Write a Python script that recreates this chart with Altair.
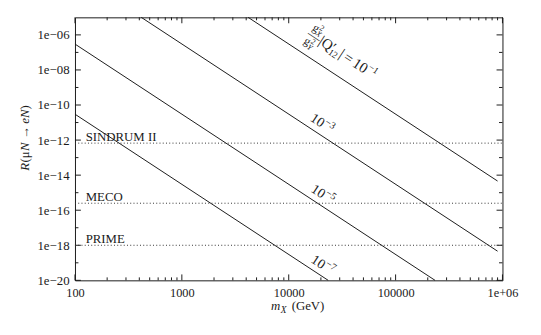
import altair as alt
import pandas as pd

# ---- data ----
# constraint lines (g_X^2/g_Y^2 |Q'_12| = 10^-1, 10^-3, 10^-5, 10^-7): endpoints in (m_X [GeV], R)
line_names = ["1e-1", "1e-3", "1e-5", "1e-7"]
line_m_start = [4170, 417, 100, 100]
line_r_start = [1.0e-5, 1.0e-5, 3.0e-7, 3.0e-11]
line_m_end = [9.0e5, 9.0e5, 2.34e5, 2.34e4]
line_r_end = [4.6e-15, 4.6e-19, 1.0e-20, 1.0e-20]

# experimental sensitivities
exp_names = ["SINDRUM II", "MECO", "PRIME"]
exp_limits = [6.7e-13, 2.5e-16, 1.0e-18]

# small line labels ("10" with a superscript exponent), centred at (m, R)
lab_sup = ["\u22123", "\u22125", "\u22127"]
lab_m = [20470, 20800, 20800]
lab_r = [9.1e-12, 8.3e-16, 7.7e-20]

# big label anchor (centre of the fraction)
big_m = [17380]
big_r = [7.4e-7]

# axis ticks
x_major = [100, 1000, 10000, 100000, 1000000]
x_minor = [m * 10 ** k for k in range(2, 6) for m in range(2, 10)]
y_labels = [1e-20, 1e-18, 1e-16, 1e-14, 1e-12, 1e-10, 1e-08, 1e-06]
y_minor = [1e-19, 1e-17, 1e-15, 1e-13, 1e-11, 1e-09, 1e-07]

# ---- chart ----
W, H = 434, 267
FONT = "Liberation Serif"
INK = "#1a1a1a"
ANG = 33.3

x_scale = alt.Scale(type="log", domain=[100, 1e6], nice=False)
y_scale = alt.Scale(type="log", domain=[1e-20, 1e-5], nice=False)

x_axis = alt.Axis(
    values=x_major, title=None, ticks=False, tickSize=0, domain=False, grid=False,
    labelExpr="datum.value >= 1e6 ? '1e+06' : format(datum.value, 'd')",
    labelFont=FONT, labelFontSize=12.5, labelColor=INK, labelPadding=6,
    labelFlush=False, labelOverlap=False)
y_axis = alt.Axis(
    values=y_labels, title=None, ticks=False, tickSize=0, domain=False, grid=False,
    labelExpr="'1e\u2212' + format(-round(log(datum.value)/LN10), '02d')",
    labelFont=FONT, labelFontSize=13, labelColor=INK, labelPadding=6,
    labelFlush=False, labelOverlap=False)

XE = alt.X("m:Q", scale=x_scale, axis=x_axis)
YE = alt.Y("R:Q", scale=y_scale, axis=y_axis)

rows = []
for n, m0, r0, m1, r1 in zip(line_names, line_m_start, line_r_start, line_m_end, line_r_end):
    rows.append({"name": n, "m": m0, "R": r0, "o": 0})
    rows.append({"name": n, "m": m1, "R": r1, "o": 1})
df_lines = pd.DataFrame(rows)

lines = alt.Chart(df_lines).mark_line(color=INK, strokeWidth=1).encode(
    x=XE, y=YE, detail="name:N", order="o:Q")

df_exp = pd.DataFrame({"name": exp_names, "R": exp_limits, "m": [126] * len(exp_names)})
exp_rules = alt.Chart(df_exp).mark_rule(color="#333333", strokeWidth=1, strokeDash=[1, 2.3]).encode(
    y=YE, x=alt.value(0), x2=alt.value(W))
exp_text = alt.Chart(df_exp).mark_text(font=FONT, fontSize=13, color=INK, align="left",
                                       baseline="alphabetic", dy=-2).encode(
    x=XE, y=YE, text="name:N")

df_lab = pd.DataFrame({"sup": lab_sup, "m": lab_m, "R": lab_r})
lab_base = alt.Chart(df_lab).mark_text(text="10", font=FONT, fontSize=14, color=INK, align="right",
                                       baseline="alphabetic", angle=ANG, dx=1.7, dy=4.5).encode(
    x=XE, y=YE)
lab_exp = alt.Chart(df_lab).mark_text(font=FONT, fontSize=10, color=INK, align="left",
                                      baseline="alphabetic", angle=ANG, dx=2.2, dy=-1).encode(
    x=XE, y=YE, text="sup:N")

df_big = pd.DataFrame({"m": big_m, "R": big_r})
def big_piece(txt, u, v, size, italic=False):
    return alt.Chart(df_big).mark_text(
        text=txt, font=FONT, fontSize=size, color=INK, align="left", baseline="alphabetic",
        angle=ANG, dx=u, dy=v, fontStyle="italic" if italic else "normal").encode(x=XE, y=YE)

big = [
    # fraction g_X^2 / g_Y^2
    big_piece("g", -6.5, -5, 12),
    big_piece("2", -0.5, -9.2, 8),
    big_piece("X", -0.5, -2.5, 8, italic=True),
    big_piece("\u2014", -7.5, 3.5, 14),
    big_piece("g", -6.5, 11, 12),
    big_piece("2", -0.5, 7, 8),
    big_piece("Y", -0.5, 13.7, 8, italic=True),
    # |Q'_12| = 10^-1
    big_piece("|Q\u2032", 6.5, 3.5, 15),
    big_piece("12", 20.3, 6.8, 9.5),
    big_piece("|", 31, 3.5, 15),
    big_piece("=", 36.5, 3.5, 15),
    big_piece("10", 47.5, 3.5, 15),
    big_piece("\u22121", 63, -3, 9.5),
]

# inward ticks on all four sides
def xticks(vals, top, length):
    d = pd.DataFrame({"m": vals})
    y0 = 0 if top else H
    y1 = length if top else H - length
    return alt.Chart(d).mark_rule(color=INK, strokeWidth=1).encode(
        x=XE, y=alt.value(y0), y2=alt.value(y1))

def yticks(vals, right, length):
    d = pd.DataFrame({"R": vals})
    x0 = W if right else 0
    x1 = W - length if right else length
    return alt.Chart(d).mark_rule(color=INK, strokeWidth=1).encode(
        y=YE, x=alt.value(x0), x2=alt.value(x1))

ticks = [
    xticks(x_major, False, 6), xticks(x_minor, False, 3),
    xticks(x_major, True, 6), xticks(x_minor, True, 3),
    yticks(y_labels, False, 6), yticks(y_minor, False, 3.5),
    yticks(y_labels, True, 6), yticks(y_minor, True, 3.5),
]

# axis titles built from pieces (mixed italic)
df_one = pd.DataFrame({"k": [0]})
def title_piece(txt, x, y, size, align="left", italic=False, angle=0, dx=0):
    return alt.Chart(df_one).mark_text(
        text=txt, font=FONT, fontSize=size, color=INK, align=align, baseline="alphabetic",
        angle=angle, dx=dx, fontStyle="italic" if italic else "normal").encode(
        x=alt.value(x), y=alt.value(y))

XT_X, XT_Y = 199, 296.7
xtitle = [
    title_piece("m", XT_X, XT_Y, 13, italic=True),
    title_piece("X", XT_X + 9.8, XT_Y + 3, 9.5, italic=True),
    title_piece("(GeV)", XT_X + 21, XT_Y, 13),
]

YT_X, YT_Y = -47, 155.8
ytitle = [
    title_piece("R", YT_X, YT_Y, 13, italic=True, angle=270, dx=0),
    title_piece("(\u03bc", YT_X, YT_Y, 13, angle=270, dx=8.4),
    title_piece("N", YT_X, YT_Y, 13, italic=True, angle=270, dx=20.2),
    title_piece("\u2192", YT_X, YT_Y, 13, align="center", angle=270, dx=39),
    title_piece("eN", YT_X, YT_Y, 13, italic=True, align="right", angle=270, dx=62.2),
    title_piece(")", YT_X, YT_Y, 13, align="right", angle=270, dx=66.7),
]

chart = alt.layer(
    lines, *ticks, exp_rules, exp_text, lab_base, lab_exp, *big, *xtitle, *ytitle
).properties(
    width=W, height=H,
    autosize=alt.AutoSizeParams(type="none"),
    padding={"left": 68, "top": 7, "right": 31, "bottom": 53},
    background="white",
).configure_view(stroke=INK, strokeWidth=1)

chart.save("out.html", embed_options={"renderer": "svg", "actions": False})
